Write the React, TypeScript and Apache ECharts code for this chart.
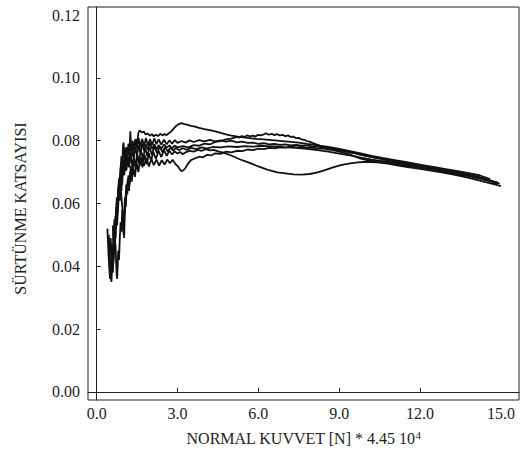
import React, { useEffect, useRef } from "react";
import * as echarts from "echarts";

// Friction coefficient vs. normal load, one array per test run: [load, coefficient]
const run1: [number, number][] = [
  [0.55, 0.046], [0.58, 0.041], [0.6, 0.038], [0.63, 0.043], [0.66, 0.049], [0.68, 0.046],
  [0.71, 0.053], [0.74, 0.058], [0.76, 0.055], [0.79, 0.061], [0.82, 0.066], [0.84, 0.062],
  [0.87, 0.069], [0.9, 0.072], [0.93, 0.068], [0.96, 0.074], [1.0, 0.071], [1.03, 0.076],
  [1.07, 0.073], [1.1, 0.078], [1.14, 0.075], [1.18, 0.079], [1.22, 0.076], [1.25, 0.083],
  [1.28, 0.078], [1.32, 0.0765], [1.36, 0.0795], [1.4, 0.0775], [1.45, 0.0805], [1.5, 0.079],
  [1.55, 0.0825], [1.6, 0.0833], [1.68, 0.0826], [1.75, 0.0829], [1.82, 0.082], [1.9, 0.0823],
  [1.97, 0.0816], [2.05, 0.0821], [2.12, 0.0814], [2.2, 0.0819], [2.28, 0.0815], [2.36, 0.0822],
  [2.44, 0.0817], [2.52, 0.0821], [2.6, 0.0818], [2.68, 0.0824], [2.76, 0.0829], [2.85, 0.0838],
  [2.95, 0.0847], [3.05, 0.0853], [3.15, 0.0856], [3.25, 0.0853], [3.35, 0.0851], [3.5, 0.0847],
  [3.65, 0.0845], [3.8, 0.0841], [4.0, 0.0837], [4.2, 0.0834], [4.4, 0.083], [4.6, 0.0825],
  [4.8, 0.082], [5.0, 0.0816], [5.3, 0.0812], [5.6, 0.0809], [5.9, 0.0806], [6.2, 0.0804],
  [6.6, 0.0801], [7.0, 0.0798], [7.5, 0.0794], [7.8, 0.079], [8.2, 0.0785], [8.6, 0.078],
  [9.0, 0.0774], [9.4, 0.0767], [9.8, 0.076], [10.2, 0.0752], [10.6, 0.0745], [11.0, 0.0739],
  [11.4, 0.0733], [11.8, 0.0727], [12.2, 0.0721], [12.6, 0.0715], [13.0, 0.0709],
  [13.4, 0.0703], [13.8, 0.0697], [14.2, 0.069], [14.6, 0.0678],
];

const run2: [number, number][] = [
  [0.45, 0.05], [0.47, 0.046], [0.5, 0.041], [0.52, 0.037], [0.55, 0.035], [0.57, 0.039],
  [0.6, 0.044], [0.62, 0.041], [0.65, 0.047], [0.68, 0.052], [0.7, 0.049], [0.73, 0.056],
  [0.76, 0.053], [0.79, 0.06], [0.82, 0.064], [0.85, 0.061], [0.88, 0.067], [0.92, 0.064],
  [0.95, 0.07], [0.99, 0.073], [1.02, 0.069], [1.06, 0.074], [1.1, 0.071], [1.14, 0.075],
  [1.18, 0.0725], [1.23, 0.0765], [1.28, 0.074], [1.33, 0.0775], [1.38, 0.0745], [1.44, 0.078],
  [1.5, 0.0755], [1.56, 0.0785], [1.62, 0.0762], [1.69, 0.079], [1.76, 0.0768], [1.83, 0.0788],
  [1.9, 0.0771], [1.98, 0.0793], [2.06, 0.0774], [2.14, 0.0789], [2.22, 0.0772], [2.3, 0.0786],
  [2.4, 0.0775], [2.5, 0.0788], [2.6, 0.0778], [2.7, 0.0785], [2.8, 0.0776], [2.9, 0.0784],
  [3.0, 0.0779], [3.2, 0.0783], [3.4, 0.0779], [3.6, 0.0786], [3.8, 0.0784], [4.0, 0.0791],
  [4.2, 0.0788], [4.4, 0.0796], [4.6, 0.0799], [4.8, 0.0804], [5.0, 0.0807], [5.2, 0.0812],
  [5.3, 0.081], [5.38, 0.0815], [5.5, 0.0812], [5.58, 0.0817], [5.7, 0.0814], [5.8, 0.0816],
  [5.88, 0.0813], [6.0, 0.0819], [6.1, 0.0817], [6.2, 0.082], [6.28, 0.0824], [6.38, 0.0819],
  [6.5, 0.0822], [6.6, 0.0818], [6.68, 0.0821], [6.8, 0.0817], [6.9, 0.0819], [7.0, 0.0814],
  [7.1, 0.0817], [7.2, 0.0812], [7.3, 0.0813], [7.4, 0.0808], [7.5, 0.0809], [7.6, 0.0804],
  [7.7, 0.0803], [7.8, 0.0799], [7.9, 0.0797], [8.0, 0.0793], [8.2, 0.0787], [8.4, 0.078],
  [8.6, 0.0775], [8.8, 0.0769], [9.0, 0.0765], [9.2, 0.0761], [9.4, 0.0756], [9.6, 0.0749],
  [9.8, 0.0743], [10.0, 0.0739], [10.3, 0.0734], [10.7, 0.073], [11.0, 0.0726],
  [11.4, 0.0721], [11.8, 0.0716], [12.2, 0.0711], [12.6, 0.0705], [13.0, 0.07],
  [13.4, 0.0694], [13.8, 0.0687], [14.2, 0.068], [14.6, 0.0672], [14.9, 0.0666],
];

const run3: [number, number][] = [
  [0.7, 0.047], [0.72, 0.042], [0.74, 0.038], [0.76, 0.036], [0.78, 0.04], [0.8, 0.045],
  [0.83, 0.042], [0.86, 0.049], [0.89, 0.054], [0.92, 0.051], [0.95, 0.058], [0.98, 0.055],
  [1.0, 0.05], [1.02, 0.056], [1.05, 0.062], [1.08, 0.059], [1.12, 0.065], [1.16, 0.068],
  [1.2, 0.064], [1.25, 0.07], [1.3, 0.067], [1.36, 0.0715], [1.42, 0.0685], [1.48, 0.073],
  [1.55, 0.07], [1.62, 0.0745], [1.7, 0.0715], [1.78, 0.0755], [1.86, 0.0725], [1.94, 0.076],
  [2.02, 0.0735], [2.1, 0.0765], [2.2, 0.0742], [2.3, 0.0768], [2.4, 0.0748], [2.5, 0.077],
  [2.6, 0.0752], [2.7, 0.0768], [2.8, 0.0756], [2.9, 0.0766], [3.0, 0.0759], [3.1, 0.0764],
  [3.2, 0.0757], [3.3, 0.0763], [3.45, 0.0768], [3.6, 0.0765], [3.75, 0.0771], [3.9, 0.0768],
  [4.05, 0.0773], [4.2, 0.0769], [4.35, 0.0771], [4.5, 0.0766], [4.7, 0.0762], [4.9, 0.0756],
  [5.1, 0.0749], [5.3, 0.0741], [5.5, 0.0735], [5.75, 0.0727], [6.0, 0.0718], [6.2, 0.0712],
  [6.4, 0.0706], [6.7, 0.0699], [7.0, 0.0696], [7.3, 0.0693], [7.6, 0.0692], [7.9, 0.0694],
  [8.2, 0.0699], [8.5, 0.0707], [8.8, 0.0716], [9.1, 0.0723], [9.4, 0.0728], [9.7, 0.0731],
  [10.0, 0.0733], [10.4, 0.0731], [10.8, 0.0727], [11.2, 0.0721], [11.6, 0.0715],
  [12.0, 0.071], [12.4, 0.0705], [12.8, 0.0699], [13.2, 0.0693], [13.6, 0.0686],
  [14.0, 0.0678], [14.4, 0.0669], [14.8, 0.066], [15.0, 0.0655],
];

const run4: [number, number][] = [
  [0.5, 0.044], [0.52, 0.049], [0.54, 0.046], [0.56, 0.041], [0.58, 0.038], [0.6, 0.042],
  [0.62, 0.047], [0.65, 0.044], [0.68, 0.051], [0.7, 0.055], [0.72, 0.052], [0.75, 0.058],
  [0.78, 0.062], [0.8, 0.059], [0.83, 0.065], [0.86, 0.061], [0.89, 0.067], [0.92, 0.07],
  [0.95, 0.066], [0.98, 0.072], [1.02, 0.069], [1.06, 0.0735], [1.1, 0.0705], [1.15, 0.075],
  [1.2, 0.0715], [1.26, 0.0755], [1.32, 0.072], [1.38, 0.0745], [1.45, 0.0715], [1.52, 0.075],
  [1.6, 0.0722], [1.68, 0.0748], [1.76, 0.072], [1.85, 0.0745], [1.94, 0.0718], [2.03, 0.0742],
  [2.12, 0.0722], [2.22, 0.074], [2.32, 0.0721], [2.42, 0.0738], [2.52, 0.0724], [2.62, 0.074],
  [2.72, 0.0728], [2.82, 0.0739], [2.92, 0.0726], [3.0, 0.072], [3.08, 0.071], [3.15, 0.0703],
  [3.22, 0.0706], [3.3, 0.0714], [3.4, 0.0728], [3.5, 0.0738], [3.65, 0.0744], [3.8, 0.0749],
  [3.95, 0.0747], [4.1, 0.0755], [4.25, 0.0753], [4.4, 0.076], [4.6, 0.0758], [4.8, 0.0765],
  [5.0, 0.0763], [5.2, 0.0768], [5.4, 0.0767], [5.6, 0.0772], [5.8, 0.077], [6.0, 0.0775],
  [6.2, 0.0773], [6.4, 0.0777], [6.6, 0.0776], [6.8, 0.0779], [7.0, 0.0778], [7.2, 0.0782],
  [7.4, 0.0779], [7.6, 0.078], [7.8, 0.0777], [8.0, 0.0778], [8.2, 0.0775], [8.4, 0.0776],
  [8.6, 0.0772], [8.8, 0.0772], [9.0, 0.0768], [9.2, 0.0767], [9.4, 0.0762], [9.6, 0.076],
  [9.8, 0.0755], [10.0, 0.0752], [10.4, 0.0745], [10.8, 0.0738], [11.2, 0.0731],
  [11.6, 0.0725], [12.0, 0.0719], [12.4, 0.0713], [12.8, 0.0707], [13.2, 0.0701],
  [13.6, 0.0695], [14.0, 0.0688], [14.4, 0.0679], [14.8, 0.0668], [14.95, 0.0663],
];

const run5: [number, number][] = [
  [0.6, 0.053], [0.62, 0.048], [0.64, 0.045], [0.67, 0.05], [0.7, 0.056], [0.72, 0.053],
  [0.75, 0.06], [0.78, 0.057], [0.8, 0.064], [0.83, 0.068], [0.86, 0.065], [0.89, 0.071],
  [0.92, 0.075], [0.95, 0.072], [0.98, 0.0785], [1.0, 0.0794], [1.03, 0.075], [1.06, 0.0775],
  [1.1, 0.0735], [1.14, 0.078], [1.18, 0.0755], [1.23, 0.0795], [1.28, 0.0765], [1.33, 0.08],
  [1.38, 0.077], [1.44, 0.0805], [1.5, 0.0775], [1.56, 0.0808], [1.62, 0.078], [1.69, 0.0806],
  [1.76, 0.0782], [1.83, 0.0809], [1.9, 0.0785], [1.98, 0.0805], [2.06, 0.0787], [2.14, 0.0808],
  [2.22, 0.0789], [2.3, 0.0804], [2.4, 0.0788], [2.5, 0.0803], [2.6, 0.0789], [2.7, 0.0801],
  [2.8, 0.0791], [2.9, 0.0802], [3.0, 0.0793], [3.15, 0.0799], [3.3, 0.0794], [3.45, 0.0801],
  [3.6, 0.0796], [3.8, 0.0802], [4.0, 0.0798], [4.2, 0.0803], [4.4, 0.0798], [4.6, 0.0801],
  [4.8, 0.0797], [5.0, 0.08], [5.2, 0.0795], [5.4, 0.0797], [5.6, 0.0793], [5.8, 0.0794],
  [6.0, 0.079], [6.2, 0.0792], [6.4, 0.0788], [6.6, 0.079], [6.8, 0.0787], [7.0, 0.0788],
  [7.2, 0.0785], [7.4, 0.0787], [7.6, 0.0784], [7.8, 0.0785], [8.0, 0.0781], [8.2, 0.0781],
  [8.4, 0.0778], [8.6, 0.0777], [8.8, 0.0773], [9.0, 0.0771], [9.4, 0.0764], [9.8, 0.0756],
  [10.2, 0.0748], [10.6, 0.0741], [11.0, 0.0735], [11.4, 0.0729], [11.8, 0.0723],
  [12.2, 0.0717], [12.6, 0.0711], [13.0, 0.0705], [13.4, 0.0698], [13.8, 0.0691],
  [14.2, 0.0683], [14.6, 0.0673], [14.9, 0.0665],
];

const run6: [number, number][] = [
  [0.4, 0.052], [0.42, 0.048], [0.44, 0.044], [0.46, 0.041], [0.48, 0.038], [0.5, 0.036],
  [0.52, 0.039], [0.55, 0.043], [0.58, 0.047], [0.6, 0.044], [0.63, 0.05], [0.66, 0.055],
  [0.69, 0.052], [0.72, 0.058], [0.75, 0.062], [0.78, 0.059], [0.81, 0.065], [0.84, 0.061],
  [0.88, 0.066], [0.92, 0.062], [0.96, 0.058], [1.0, 0.053], [1.02, 0.049], [1.04, 0.055],
  [1.07, 0.061], [1.1, 0.066], [1.14, 0.063], [1.18, 0.069], [1.22, 0.066], [1.27, 0.072],
  [1.32, 0.069], [1.38, 0.0745], [1.44, 0.0715], [1.5, 0.076], [1.57, 0.073], [1.64, 0.0772],
  [1.72, 0.0742], [1.8, 0.0778], [1.88, 0.075], [1.96, 0.078], [2.05, 0.0755], [2.14, 0.0782],
  [2.24, 0.076], [2.34, 0.0781], [2.44, 0.0764], [2.54, 0.0779], [2.64, 0.0766], [2.74, 0.0778],
  [2.84, 0.0768], [2.94, 0.0777], [3.05, 0.077], [3.2, 0.0776], [3.35, 0.0771], [3.5, 0.0777],
  [3.7, 0.0773], [3.9, 0.0779], [4.1, 0.0775], [4.3, 0.078], [4.6, 0.0779], [4.9, 0.0782],
  [5.2, 0.078], [5.5, 0.0783], [5.8, 0.0781], [6.1, 0.0784], [6.4, 0.0782], [6.7, 0.0782],
  [7.0, 0.0779], [7.4, 0.0777], [7.8, 0.0774], [8.2, 0.077], [8.6, 0.0765], [9.0, 0.0759],
  [9.4, 0.0753], [9.8, 0.0746], [10.2, 0.074], [10.6, 0.0735], [11.0, 0.073], [11.4, 0.0724],
  [11.8, 0.0718], [12.2, 0.0712], [12.6, 0.0707], [13.0, 0.0701], [13.4, 0.0695],
  [13.8, 0.0688], [14.2, 0.068], [14.6, 0.0671], [14.85, 0.0661],
];

const runs = [run1, run2, run3, run4, run5, run6];

const xTickLabels = [0, 3, 6, 9, 12, 15];
const xTickMarks = [3, 6, 9, 12];
const yTickLabels = [0, 0.02, 0.04, 0.06, 0.08, 0.1, 0.12];
const yTickMarks = [0.02, 0.04, 0.06, 0.08, 0.1];

const FONT = "'Liberation Serif', 'Times New Roman', serif";

export default function App() {
  const ref = useRef<HTMLDivElement>(null);

  useEffect(() => {
    if (!ref.current) return;
    const chart = echarts.init(ref.current, undefined, { renderer: "svg" });
    chart.setOption({
      animation: false,
      backgroundColor: "#fff",
      grid: {
        left: 88,
        right: 9,
        top: 7,
        bottom: 56,
        show: true,
        borderColor: "#222",
        borderWidth: 1,
      },
      xAxis: {
        type: "value",
        min: -0.32,
        max: 15.67,
        splitLine: { show: false },
        axisLine: { show: true, lineStyle: { color: "#222", width: 1 } },
        axisTick: {
          show: true,
          inside: true,
          length: 4,
          customValues: xTickMarks,
          lineStyle: { color: "#222" },
        },
        axisLabel: {
          customValues: xTickLabels,
          formatter: (v: number) => v.toFixed(1),
          color: "#222",
          fontFamily: FONT,
          fontSize: 16,
          margin: 5,
        },
        name: "NORMAL KUVVET [N] * 4.45 10{sup|4}",
        nameLocation: "middle",
        nameGap: 29,
        nameTextStyle: {
          color: "#222",
          fontFamily: FONT,
          fontSize: 16,
          rich: {
            sup: {
              fontFamily: FONT,
              fontSize: 11,
              color: "#222",
              padding: [0, 0, 8, 0],
            },
          },
        },
      },
      yAxis: {
        type: "value",
        min: -0.0026,
        max: 0.1226,
        splitLine: { show: false },
        axisLine: { show: true, lineStyle: { color: "#222", width: 1 } },
        axisTick: {
          show: true,
          inside: true,
          length: 4,
          customValues: yTickMarks,
          lineStyle: { color: "#222" },
        },
        axisLabel: {
          customValues: yTickLabels,
          formatter: (v: number) => v.toFixed(2),
          color: "#222",
          fontFamily: FONT,
          fontSize: 16,
          margin: 8,
        },
        name: "SÜRTÜNME KATSAYISI",
        nameLocation: "middle",
        nameGap: 60,
        nameTextStyle: {
          color: "#222",
          fontFamily: FONT,
          fontSize: 16,
          padding: [0, 10, 0, 0],
        },
      },
      series: runs.map((data) => ({
        type: "line",
        data,
        showSymbol: false,
        smooth: false,
        lineStyle: { color: "#111", width: 1.8 },
        emphasis: { disabled: true },
      })),
    });
    return () => chart.dispose();
  }, []);

  return <div ref={ref} style={{ width: 528, height: 456, position: "absolute", left: 0, top: 0 }} />;
}
